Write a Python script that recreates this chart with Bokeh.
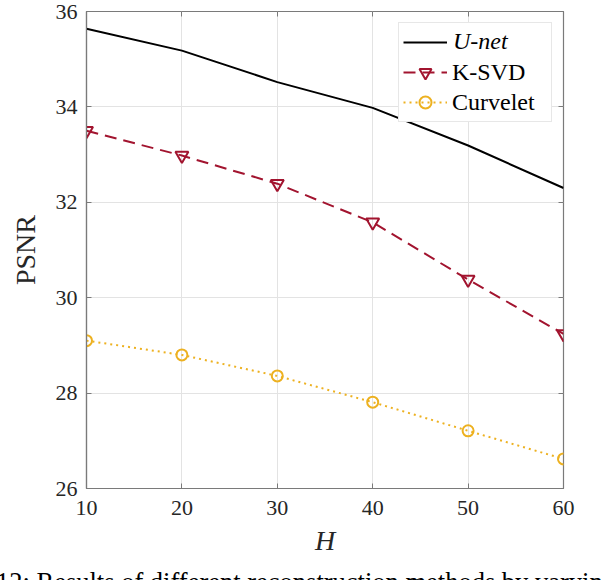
from bokeh.plotting import figure
from bokeh.models import (Range1d, FixedTicker, LinearAxis, Legend, LegendItem, Div)
from bokeh.layouts import column
from bokeh.embed import file_html
from bokeh.resources import INLINE

H = [10, 20, 30, 40, 50, 60]
unet = [35.64, 35.18, 34.52, 33.98, 33.19, 32.30]
ksvd = [33.50, 32.98, 32.39, 31.58, 30.38, 29.24]
curvelet = [29.10, 28.80, 28.36, 27.81, 27.21, 26.62]
x_ticks = [10, 20, 30, 40, 50, 60]
y_ticks = [26, 28, 30, 32, 34, 36]
labels = ["U-net", "K-SVD", "Curvelet"]
caption = "12: Results of different reconstruction methods by varying"

FONT = "Liberation Serif"
AX = "#262626"
LINE = "#7a7a7a"
RED = "#A2142F"
YEL = "#EDB120"

p = figure(width=604, height=566, output_backend="svg", toolbar_location=None,
           x_range=Range1d(10, 60), y_range=Range1d(26, 36),
           min_border_left=86, min_border_right=41, min_border_top=11,
           min_border_bottom=78)
p.background_fill_color = "white"
p.border_fill_color = "white"
p.outline_line_color = LINE
p.outline_line_width = 1.2

for ax in (p.xaxis[0], p.yaxis[0]):
    ax.major_label_text_font = FONT
    ax.major_label_text_font_size = "22px"
    ax.major_label_text_color = AX
    ax.axis_line_color = LINE
    ax.axis_line_width = 1.2
    ax.major_tick_line_color = LINE
    ax.major_tick_in = 5
    ax.major_tick_out = 0
    ax.minor_tick_line_color = None
    ax.axis_label_text_font = FONT
    ax.axis_label_text_font_size = "28px"
    ax.axis_label_text_color = AX
    ax.axis_label_text_font_style = "normal"
p.xaxis[0].ticker = FixedTicker(ticks=x_ticks)
p.yaxis[0].ticker = FixedTicker(ticks=y_ticks)
p.xaxis[0].axis_label = "H"
p.xaxis[0].axis_label_text_font_style = "italic"
p.yaxis[0].axis_label = "PSNR"
p.xaxis[0].major_label_standoff = 12
p.yaxis[0].major_label_standoff = 9
p.xaxis[0].axis_label_standoff = 7
p.yaxis[0].axis_label_standoff = 12

for side, ticks in (("above", x_ticks), ("right", y_ticks)):
    a = LinearAxis(ticker=FixedTicker(ticks=ticks))
    a.major_label_text_font_size = "1px"
    a.major_label_text_color = None
    a.major_label_standoff = 0
    a.axis_line_color = None
    a.major_tick_line_color = LINE
    a.major_tick_in = 5
    a.major_tick_out = 0
    a.minor_tick_line_color = None
    p.add_layout(a, side)

p.xgrid.ticker = FixedTicker(ticks=x_ticks)
p.ygrid.ticker = FixedTicker(ticks=y_ticks)
p.grid.grid_line_color = "#e3e3e3"
p.grid.grid_line_width = 1

r_unet = p.line(H, unet, line_color="black", line_width=2)
r_unet_ghost = p.line(H, unet, line_alpha=0)
r_k = p.line(H, ksvd, line_color=RED, line_width=2, line_dash="12 7")
s_k = p.scatter(H, ksvd, marker="inverted_triangle", size=13, fill_color=None,
                line_color=RED, line_width=2)
r_c = p.line(H, curvelet, line_color=YEL, line_width=2, line_dash="2 4")
s_c = p.scatter(H, curvelet, marker="circle", size=11, fill_color=None,
                line_color=YEL, line_width=2)

common = dict(location="top_right", margin=11, padding=4, spacing=0,
              glyph_width=44, glyph_height=30, label_height=30, label_width=95,
              label_standoff=5, label_text_font=FONT, label_text_font_size="24px",
              label_text_color="black", label_text_baseline="middle")

leg_main = Legend(items=[LegendItem(label=" ", renderers=[r_unet]),
                         LegendItem(label=labels[1], renderers=[r_k, s_k]),
                         LegendItem(label=labels[2], renderers=[r_c, s_c])],
                  border_line_color="#d0d0d0", border_line_width=1,
                  background_fill_color="white", background_fill_alpha=1, **common)
leg_it = Legend(items=[LegendItem(label=labels[0], renderers=[r_unet_ghost])],
                border_line_alpha=0, background_fill_alpha=0,
                label_text_font_style="italic", **common)
p.add_layout(leg_main, "center")
p.add_layout(leg_it, "center")

cap = Div(text=caption, width=604, height=14,
          styles={"overflow": "hidden", "white-space": "nowrap", "margin": "0",
                  "font-family": FONT, "font-size": "26.5px", "line-height": "32px",
                  "color": "black", "text-indent": "-4px"})

layout = column(p, cap, spacing=0)
open("out.html", "w").write(file_html(layout, INLINE))
